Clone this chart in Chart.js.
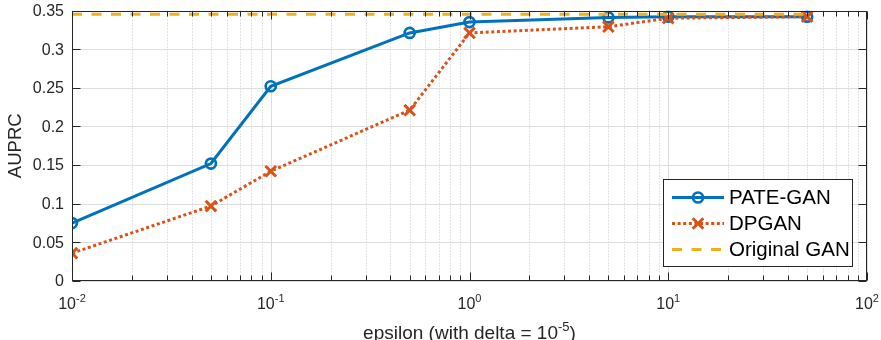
<!DOCTYPE html>
<html>
<head>
<meta charset="utf-8">
<script src="https://cdn.jsdelivr.net/npm/chart.js@4.4.0/dist/chart.umd.min.js"></script>
<style>
  html, body { margin: 0; padding: 0; background: #fff; }
</style>
</head>
<body>
<canvas id="auprc" width="881" height="340"></canvas>
<script>
// values
const epsilons = [0.01, 0.05, 0.1, 0.5, 1, 5, 10, 50];
const pateGan = [0.075, 0.152, 0.252, 0.321, 0.335, 0.341, 0.342, 0.342];
const dpGan = [0.036, 0.097, 0.142, 0.221, 0.321, 0.329, 0.340, 0.342];
const originalGan = [0.345, 0.345, 0.345, 0.345, 0.345, 0.345, 0.345, 0.345];

const yTicks = [0, 0.05, 0.1, 0.15, 0.2, 0.25, 0.3, 0.35];
const yTickLabels = ['0', '0.05', '0.1', '0.15', '0.2', '0.25', '0.3', '0.35'];
const xTicks = [0.01, 0.1, 1, 10, 100];
const xTickExponents = ['-2', '-1', '0', '1', '2'];

const FONT = '"Liberation Sans", Arial, Helvetica, sans-serif';
const INK = '#262626';

// minor log ticks 2..9 in every decade
var xMinor = [];
for (var d = 0; d < xTicks.length - 1; d++) {
  for (var m = 2; m <= 9; m++) xMinor.push(xTicks[d] * m);
}

function pairs(ys) {
  return epsilons.map(function (e, i) { return { x: e, y: ys[i] }; });
}

function line(ctx, x1, y1, x2, y2) {
  ctx.beginPath();
  ctx.moveTo(x1, y1);
  ctx.lineTo(x2, y2);
  ctx.stroke();
}

function marker(ctx, style, x, y, r) {
  ctx.beginPath();
  if (style === 'circle') {
    ctx.arc(x, y, r, 0, Math.PI * 2);
  } else if (style === 'crossRot') {
    var o = r * Math.SQRT1_2;
    ctx.moveTo(x - o, y - o); ctx.lineTo(x + o, y + o);
    ctx.moveTo(x - o, y + o); ctx.lineTo(x + o, y - o);
  }
  ctx.stroke();
}

const matlabAxes = {
  id: 'matlabAxes',
  beforeDatasetsDraw(chart) {
    const ctx = chart.ctx, a = chart.chartArea, x = chart.scales.x, y = chart.scales.y;
    ctx.save();
    ctx.lineWidth = 1;
    // minor grid (dotted)
    ctx.strokeStyle = '#c9c9c9';
    ctx.setLineDash([1, 2]);
    xMinor.forEach(function (v) {
      var px = Math.round(x.getPixelForValue(v)) + 0.5;
      line(ctx, px, a.top, px, a.bottom);
    });
    // major grid
    ctx.setLineDash([]);
    ctx.strokeStyle = '#dedede';
    xTicks.forEach(function (v) {
      var px = Math.round(x.getPixelForValue(v)) + 0.5;
      line(ctx, px, a.top, px, a.bottom);
    });
    yTicks.forEach(function (v) {
      var py = Math.round(y.getPixelForValue(v)) + 0.5;
      line(ctx, a.left, py, a.right, py);
    });
    ctx.restore();
  },
  afterDatasetsDraw(chart) {
    const ctx = chart.ctx, a = chart.chartArea, x = chart.scales.x, y = chart.scales.y;
    const L = Math.round(a.left) + 0.5, R = Math.round(a.right) - 0.5;
    const T = Math.round(a.top) + 0.5, B = Math.round(a.bottom) - 0.5;
    ctx.save();
    ctx.strokeStyle = INK;
    ctx.lineWidth = 1;
    ctx.strokeRect(L, T, R - L, B - T);
    // inward ticks on all four sides
    xTicks.forEach(function (v) {
      var px = Math.round(x.getPixelForValue(v)) + 0.5;
      line(ctx, px, B, px, B - 8);
      line(ctx, px, T, px, T + 8);
    });
    xMinor.forEach(function (v) {
      var px = Math.round(x.getPixelForValue(v)) + 0.5;
      line(ctx, px, B, px, B - 5);
      line(ctx, px, T, px, T + 5);
    });
    yTicks.forEach(function (v) {
      var py = Math.round(y.getPixelForValue(v)) + 0.5;
      line(ctx, L, py, L + 8, py);
      line(ctx, R, py, R - 8, py);
    });

    // y tick labels
    ctx.fillStyle = INK;
    ctx.font = '16px ' + FONT;
    ctx.textAlign = 'right';
    ctx.textBaseline = 'middle';
    yTicks.forEach(function (v, i) {
      ctx.fillText(yTickLabels[i], a.left - 8, y.getPixelForValue(v) + 1);
    });

    // x tick labels 10^n
    ctx.textBaseline = 'alphabetic';
    ctx.textAlign = 'left';
    xTicks.forEach(function (v, i) {
      var px = x.getPixelForValue(v);
      ctx.font = '16px ' + FONT;
      var wb = ctx.measureText('10').width;
      ctx.font = '11px ' + FONT;
      var ws = ctx.measureText(xTickExponents[i]).width;
      var sx = px - (wb + ws) / 2;
      ctx.font = '16px ' + FONT;
      ctx.fillText('10', sx, 309);
      ctx.font = '11px ' + FONT;
      ctx.fillText(xTickExponents[i], sx + wb, 302);
    });

    // x axis title with superscript
    var t1 = 'epsilon (with delta = 10', t2 = '-5', t3 = ')';
    ctx.font = '19px ' + FONT;
    var w1 = ctx.measureText(t1).width, w3 = ctx.measureText(t3).width;
    ctx.font = '13px ' + FONT;
    var w2 = ctx.measureText(t2).width;
    var cx = (a.left + a.right) / 2;
    var tx = cx - (w1 + w2 + w3) / 2;
    ctx.font = '19px ' + FONT;
    ctx.fillText(t1, tx, 339);
    ctx.fillText(t3, tx + w1 + w2, 339);
    ctx.font = '13px ' + FONT;
    ctx.fillText(t2, tx + w1, 331);

    // y axis title
    ctx.save();
    ctx.translate(16, (a.top + a.bottom) / 2);
    ctx.rotate(-Math.PI / 2);
    ctx.textAlign = 'center';
    ctx.textBaseline = 'middle';
    ctx.font = '18.5px ' + FONT;
    ctx.fillText('AUPRC', 0, 0);
    ctx.restore();

    // legend
    var bx = 663, by = 179, bw = 189, bh = 87;
    ctx.fillStyle = '#fff';
    ctx.fillRect(bx, by, bw, bh);
    ctx.strokeStyle = INK;
    ctx.lineWidth = 1;
    ctx.strokeRect(bx + 0.5, by + 0.5, bw, bh);
    chart.data.datasets.forEach(function (ds, i) {
      var ry = by + 18.5 + i * 26;
      ctx.strokeStyle = ds.borderColor;
      ctx.lineWidth = ds.borderWidth;
      ctx.setLineDash(ds.borderDash || []);
      line(ctx, 672, ry, 724, ry);
      ctx.setLineDash([]);
      if (ds.pointRadius > 0) {
        ctx.lineWidth = ds.pointBorderWidth;
        marker(ctx, ds.pointStyle, 698, ry, ds.pointRadius);
      }
      ctx.fillStyle = '#000';
      ctx.font = '20.5px ' + FONT;
      ctx.textAlign = 'left';
      ctx.textBaseline = 'middle';
      ctx.fillText(ds.label, 729, ry + 1);
    });
    ctx.restore();
  }
};

new Chart(document.getElementById('auprc'), {
  type: 'line',
  data: {
    datasets: [
      {
        label: 'PATE-GAN',
        data: pairs(pateGan),
        borderColor: '#0072BD',
        borderWidth: 3,
        pointStyle: 'circle',
        pointRadius: 5,
        pointBorderWidth: 2.7,
        pointBorderColor: '#0072BD',
        pointBackgroundColor: 'rgba(0,0,0,0)',
        order: 3
      },
      {
        label: 'DPGAN',
        data: pairs(dpGan),
        borderColor: '#D95319',
        borderWidth: 3,
        borderDash: [3, 2.6],
        pointStyle: 'crossRot',
        pointRadius: 7.5,
        pointBorderWidth: 3,
        pointBorderColor: '#D95319',
        order: 2
      },
      {
        label: 'Original GAN',
        data: pairs(originalGan),
        borderColor: '#EDB120',
        borderWidth: 3,
        borderDash: [10, 9.5],
        pointRadius: 0,
        order: 1
      }
    ]
  },
  options: {
    responsive: false,
    animation: false,
    devicePixelRatio: 1,
    layout: { padding: { top: 8, right: 14, left: 0, bottom: 0 } },
    plugins: { legend: { display: false }, tooltip: { enabled: false } },
    elements: { line: { tension: 0, borderCapStyle: 'butt' } },
    scales: {
      x: {
        type: 'logarithmic',
        min: 0.01,
        max: 100,
        ticks: { display: false },
        grid: { display: false },
        border: { display: false },
        afterFit: function (s) { s.height = 59; }
      },
      y: {
        type: 'linear',
        min: 0,
        max: 0.35,
        afterBuildTicks: function (s) { s.ticks = yTicks.map(function (v) { return { value: v }; }); },
        ticks: { display: false },
        grid: { display: false, drawTicks: false },
        border: { display: false },
        afterFit: function (s) { s.width = 72; }
      }
    }
  },
  plugins: [matlabAxes]
});
</script>
</body>
</html>
